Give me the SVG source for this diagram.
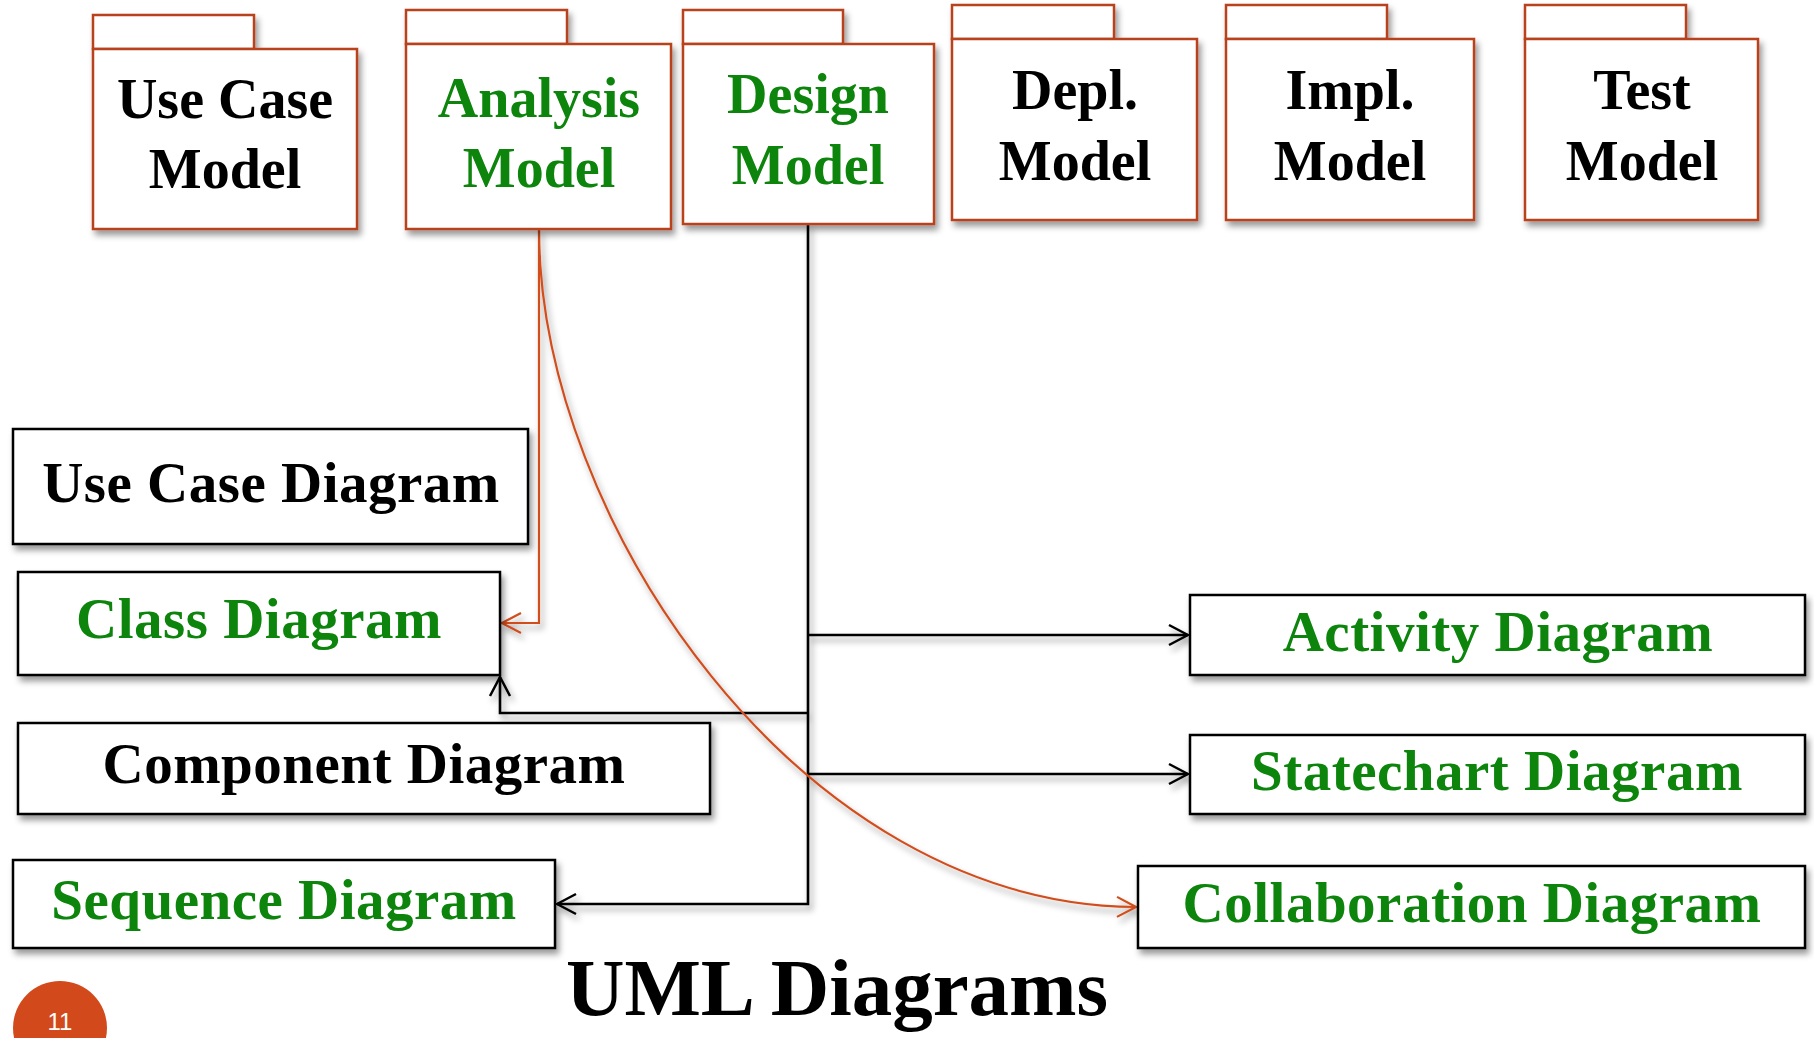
<svg xmlns="http://www.w3.org/2000/svg" width="1814" height="1038" viewBox="0 0 1814 1038">
<defs>
<filter id="sh" x="-10%" y="-10%" width="130%" height="140%">
<feDropShadow dx="3" dy="5" stdDeviation="3" flood-color="#000" flood-opacity="0.4"/>
</filter>
<marker id="ab" viewBox="-22 -12 24 24" refX="0" refY="0" markerWidth="24" markerHeight="24" markerUnits="userSpaceOnUse" orient="auto">
<path d="M-19,-10 L0,0 L-19,10" fill="none" stroke="#000" stroke-width="2.5"/>
</marker>
<marker id="ao" viewBox="-22 -12 24 24" refX="0" refY="0" markerWidth="24" markerHeight="24" markerUnits="userSpaceOnUse" orient="auto">
<path d="M-19,-10 L0,0 L-19,10" fill="none" stroke="#D24E1F" stroke-width="2.2"/>
</marker>
</defs>
<style>
.pk{fill:#fff;stroke:#B8421C;stroke-width:2.5}
.bx{fill:#fff;stroke:#000;stroke-width:2.5}
.t{font-family:"Liberation Serif","Times New Roman",serif;font-weight:bold;font-size:57px;letter-spacing:0.5px;text-anchor:middle}
.p{font-size:56px;letter-spacing:0}
.k{fill:#000}
.g{fill:#0A850A}
.cb{fill:none;stroke:#000;stroke-width:2.6}
.co{fill:none;stroke:#D24E1F;stroke-width:2.2}
</style>
<rect width="1814" height="1038" fill="#fff"/>

<g id="connectors" filter="url(#sh)">
<path class="cb" d="M808,224 V904 H557" marker-end="url(#ab)"/>
<path class="cb" d="M808,713 H500 V677" marker-end="url(#ab)"/>
<path class="cb" d="M808,635 H1188" marker-end="url(#ab)"/>
<path class="cb" d="M808,774 H1188" marker-end="url(#ab)"/>
<path class="co" d="M539,229 V623 H502" marker-end="url(#ao)"/>
<path class="co" d="M539,229 C539,520 800,905 1136,907" marker-end="url(#ao)"/>
</g>

<g id="use-case-model" filter="url(#sh)">
<rect class="pk" x="93" y="15" width="161" height="34"/>
<rect class="pk" x="93" y="49" width="264" height="180"/>
<text class="t p k" x="225" y="118">Use Case</text>
<text class="t p k" x="225" y="188">Model</text>
</g>
<g id="analysis-model" filter="url(#sh)">
<rect class="pk" x="406" y="10" width="161" height="34"/>
<rect class="pk" x="406" y="44" width="265" height="185"/>
<text class="t p g" x="539" y="117">Analysis</text>
<text class="t p g" x="539" y="187">Model</text>
</g>
<g id="design-model" filter="url(#sh)">
<rect class="pk" x="683" y="10" width="160" height="34"/>
<rect class="pk" x="683" y="44" width="251" height="180"/>
<text class="t p g" x="808" y="113">Design</text>
<text class="t p g" x="808" y="184">Model</text>
</g>
<g id="depl-model" filter="url(#sh)">
<rect class="pk" x="952" y="5" width="162" height="34"/>
<rect class="pk" x="952" y="39" width="245" height="181"/>
<text class="t p k" x="1075" y="109">Depl.</text>
<text class="t p k" x="1075" y="180">Model</text>
</g>
<g id="impl-model" filter="url(#sh)">
<rect class="pk" x="1226" y="5" width="161" height="34"/>
<rect class="pk" x="1226" y="39" width="248" height="181"/>
<text class="t p k" x="1350" y="109">Impl.</text>
<text class="t p k" x="1350" y="180">Model</text>
</g>
<g id="test-model" filter="url(#sh)">
<rect class="pk" x="1525" y="5" width="161" height="34"/>
<rect class="pk" x="1525" y="39" width="233" height="181"/>
<text class="t p k" x="1642" y="109">Test</text>
<text class="t p k" x="1642" y="180">Model</text>
</g>

<g id="use-case-diagram" filter="url(#sh)">
<rect class="bx" x="13" y="429" width="515" height="115"/>
<text class="t k" x="271" y="502">Use Case Diagram</text>
</g>
<g id="class-diagram" filter="url(#sh)">
<rect class="bx" x="18" y="572" width="482" height="103"/>
<text class="t g" x="259" y="638">Class Diagram</text>
</g>
<g id="component-diagram" filter="url(#sh)">
<rect class="bx" x="18" y="723" width="692" height="91"/>
<text class="t k" x="364" y="783">Component Diagram</text>
</g>
<g id="sequence-diagram" filter="url(#sh)">
<rect class="bx" x="13" y="860" width="542" height="88"/>
<text class="t g" x="284" y="919">Sequence Diagram</text>
</g>
<g id="activity-diagram" filter="url(#sh)">
<rect class="bx" x="1190" y="595" width="615" height="80"/>
<text class="t g" x="1498" y="651">Activity Diagram</text>
</g>
<g id="statechart-diagram" filter="url(#sh)">
<rect class="bx" x="1190" y="735" width="615" height="79"/>
<text class="t g" x="1497" y="790">Statechart Diagram</text>
</g>
<g id="collaboration-diagram" filter="url(#sh)">
<rect class="bx" x="1138" y="866" width="667" height="82"/>
<text class="t g" x="1472" y="922">Collaboration Diagram</text>
</g>

<text x="837" y="1015" font-family="Liberation Serif, serif" font-weight="bold" font-size="81" text-anchor="middle" fill="#000">UML Diagrams</text>
<g id="page-number">
<circle cx="60" cy="1028" r="47" fill="#D24A1B"/>
<text x="60" y="1030" font-family="'Liberation Sans', Arial, sans-serif" font-size="24" text-anchor="middle" fill="#fff">11</text>
</g>
</svg>
